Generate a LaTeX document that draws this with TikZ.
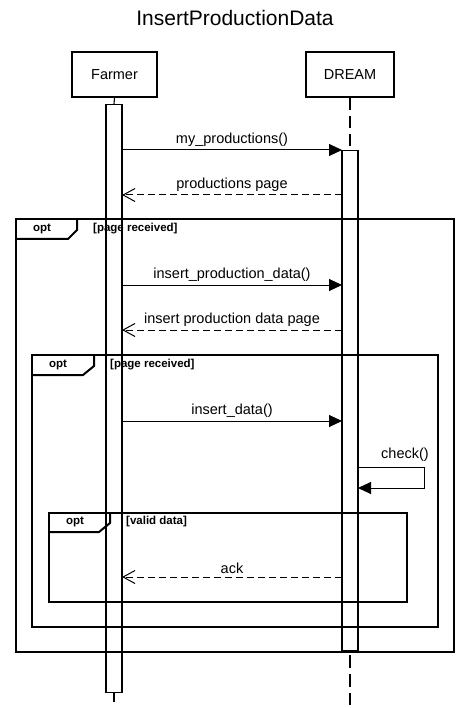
\documentclass[tikz,border=0pt]{standalone}
\usepackage{fontspec}
\setmainfont{Liberation Sans}
\usetikzlibrary{arrows.meta}
\begin{document}
\begin{tikzpicture}[x=1pt,y=-1pt,
  actor/.style={draw,line width=2pt,minimum width=85pt,minimum height=45pt,inner sep=0pt,font=\fontsize{14.5}{16}\selectfont},
  bar/.style={draw,line width=1.1pt,minimum width=16pt,inner sep=0pt,anchor=north},
  msg/.style={line width=1pt,-{Triangle[length=13pt,width=12pt]}},
  ret/.style={line width=1pt,dash pattern=on 7pt off 4pt,-{Straight Barb[length=12pt,width=13pt,line width=1pt]}},
  lbl/.style={font=\fontsize{14.5}{16}\selectfont,inner sep=3pt},
  frame/.style={line width=2pt},
  optlbl/.style={font=\bfseries\fontsize{11.5}{13}\selectfont,inner sep=0pt},
  life/.style={line width=1.1pt},
]
\useasboundingbox (0,0) rectangle (470,708);
\node[font=\fontsize{21}{24}\selectfont] (title) at (235,18) {InsertProductionData};
\node[actor] (farmer) at (114.5,74.5) {Farmer};
\node[actor,minimum width=88pt] (dream) at (350,74.5) {DREAM};

% activation bars
\node[bar,minimum height=588pt] (fbar) at (114,104) {};
\node[bar,minimum height=500pt] (dbar) at (350,150) {};

% lifelines
\coordinate (fend) at (114,702);
\coordinate (dend) at (350,705);
\draw[life] (farmer.south) -- (fbar.north);
\draw[life] (fbar.south) -- (fend);
\draw[life,dash pattern=on 12pt off 6pt] (dream.south) -- (dbar.north);
\draw[life,dash pattern=on 13pt off 6pt] (dbar.south) ++(0,4) coordinate (dstart) -- (dend);

% outer opt frame
\draw[frame] (16,219) rectangle (454,652);
\draw[frame] (16,239) -- (68,239) -- (77,230) -- (77,219);
\node[optlbl] (opt1) at (42,228.5) {opt};
\node[optlbl,anchor=west] (cond1) at (93,228.5) {[page received]};

% inner opt frame
\draw[frame] (32,355) rectangle (438,627);
\draw[frame] (32,375) -- (83,375) -- (94,366) -- (94,355);
\node[optlbl] (opt2) at (58,364.5) {opt};
\node[optlbl,anchor=west] (cond2) at (110,364.5) {[page received]};

% innermost opt frame
\draw[frame] (49,513) rectangle (407,602);
\draw[frame] (49,532) -- (99,532) -- (110,523) -- (110,513);
\node[optlbl] (opt3) at (75,522) {opt};
\node[optlbl,anchor=west] (cond3) at (126,522) {[valid data]};

% messages
\coordinate (m1s) at (122,150); \coordinate (m1e) at (342,150);
\draw[msg] (m1s) -- node[lbl,above] {my\_productions()} (m1e);

\coordinate (m2s) at (342,195); \coordinate (m2e) at (122,195);
\draw[ret] (m2s) -- node[lbl,above] {productions page} (m2e);

\coordinate (m3s) at (122,285); \coordinate (m3e) at (342,285);
\draw[msg] (m3s) -- node[lbl,above] {insert\_production\_data()} (m3e);

\coordinate (m4s) at (342,330); \coordinate (m4e) at (122,330);
\draw[ret] (m4s) -- node[lbl,above] {insert production data page} (m4e);

\coordinate (m5s) at (122,421); \coordinate (m5e) at (342,421);
\draw[msg] (m5s) -- node[lbl,above] {insert\_data()} (m5e);

\coordinate (c1) at (358,467); \coordinate (c2) at (358,488);
\draw[msg] (c1) -- ++(66,0) |- (c2);
\node[lbl] (checklbl) at (405,455) {check()};

\coordinate (m6s) at (342,577); \coordinate (m6e) at (122,577);
\draw[ret] (m6s) -- node[lbl,above] {ack} (m6e);
\end{tikzpicture}
\end{document}
